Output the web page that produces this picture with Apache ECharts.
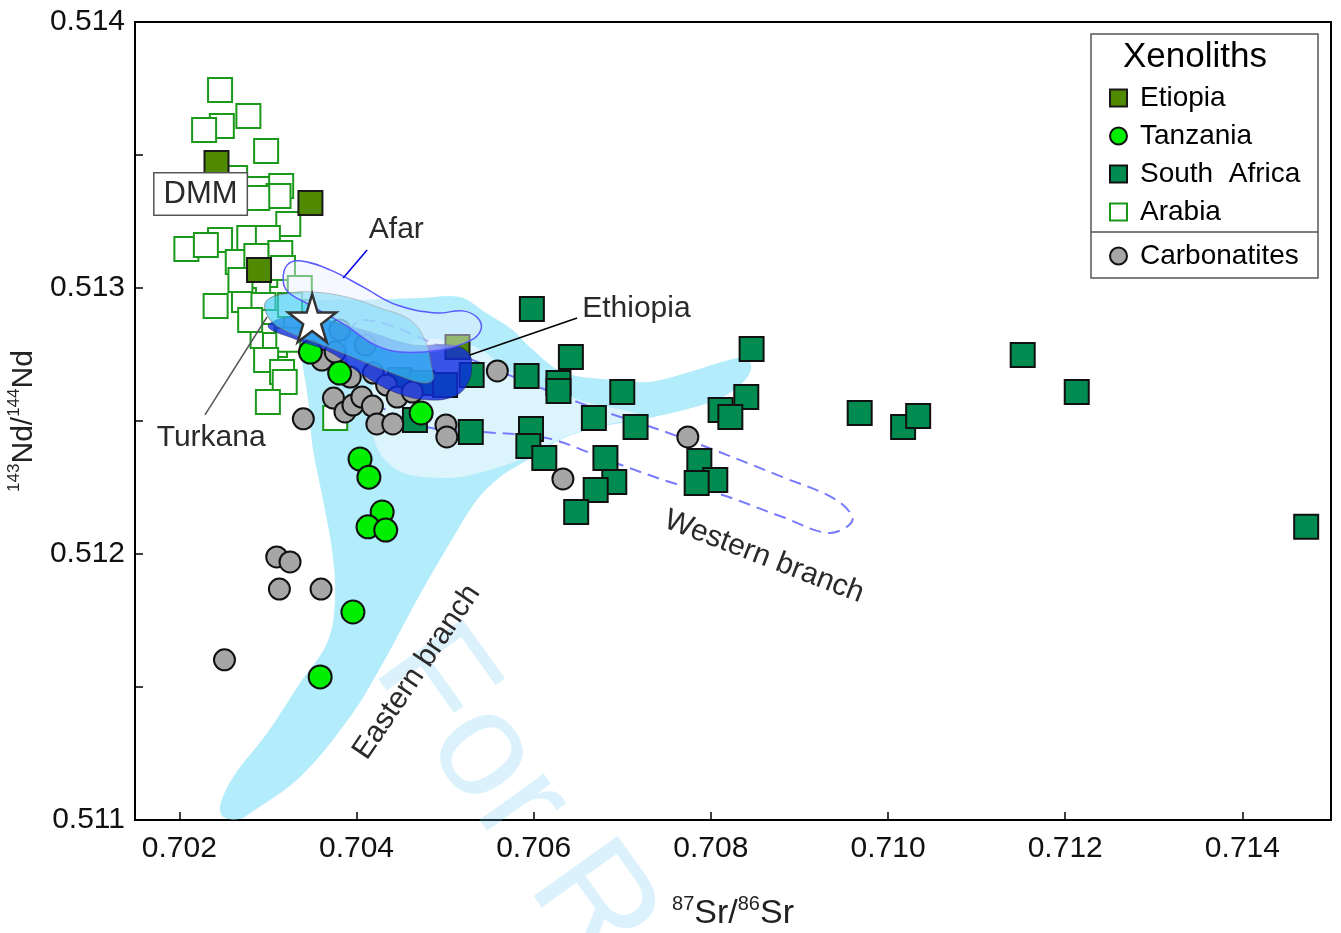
<!DOCTYPE html>
<html>
<head>
<meta charset="utf-8">
<script src="https://cdn.jsdelivr.net/npm/echarts@6/dist/echarts.min.js"></script>
<style>
  html, body { margin: 0; padding: 0; background: #fff; }
  #chart { width: 1341px; height: 933px; }
</style>
</head>
<body>
<div id="chart"></div>
<script>
// axis ticks
const xTicks = [0.702, 0.704, 0.706, 0.708, 0.710, 0.712, 0.714];

// xenolith / carbonatite samples [87Sr/86Sr, 143Nd/144Nd]
const arabia = [
  [0.70246,0.513744],[0.70278,0.513647],[0.70248,0.513609],[0.70228,0.513594],[0.70298,0.513515],
  [0.70263,0.513414],[0.7029,0.513372],[0.70315,0.513383],[0.70312,0.513346],[0.70288,0.513338],
  [0.70323,0.513241],[0.70208,0.513147],[0.70246,0.51318],[0.7023,0.513162],[0.70279,0.513188],
  [0.703,0.513188],[0.70314,0.513132],[0.70266,0.513098],[0.70287,0.51312],[0.70297,0.513049],
  [0.70317,0.513075],[0.70336,0.513],[0.70241,0.512932],[0.70289,0.512992],[0.70273,0.512955],
  [0.70295,0.512936],[0.70305,0.512872],[0.70294,0.51282],[0.70308,0.512786],[0.70323,0.512805],
  [0.70298,0.512729],[0.70316,0.512684],[0.70319,0.512647],[0.703,0.512571],[0.70376,0.512511],
  [0.7028,0.51288],[0.70269,0.51303],[0.70325,0.512936]
];
const etiopia = [
  [0.70242,0.51347],[0.70348,0.51332],[0.7029,0.513068],[0.70514,0.512778]
];
const southAfrica = [
  [0.70598,0.512921],[0.70642,0.512741],[0.70592,0.512669],[0.70628,0.512643],[0.70628,0.512613],
  [0.707,0.512609],[0.70668,0.512511],[0.70715,0.512477],[0.70597,0.51247],[0.70594,0.512406],
  [0.70612,0.512361],[0.70681,0.512361],[0.70691,0.512271],[0.7067,0.512241],[0.70648,0.512158],
  [0.70787,0.51235],[0.70805,0.512278],[0.70784,0.512267],[0.70846,0.512771],[0.7084,0.51259],
  [0.70811,0.512541],[0.70822,0.512515],[0.70968,0.51253],[0.71017,0.512477],[0.71034,0.512519],
  [0.71152,0.512748],[0.71213,0.512609],[0.71472,0.512102],[0.7053,0.512673],[0.70466,0.512504],
  [0.70529,0.512459],[0.70449,0.512654],[0.70474,0.512643],[0.705,0.512635]
];
const tanzania = [
  [0.70348,0.512759],[0.70381,0.51268],[0.70473,0.51253],[0.70404,0.512357],[0.70414,0.512289],
  [0.70429,0.512158],[0.70413,0.512102],[0.70433,0.51209],[0.70396,0.511782],[0.70359,0.511538]
];
const carbonatites = [
  [0.70251,0.511602],[0.7031,0.511989],[0.70325,0.51197],[0.70313,0.511868],[0.7036,0.511868],
  [0.7034,0.512508],[0.70633,0.512282],[0.70774,0.51244],[0.70559,0.512688],[0.70501,0.512485],
  [0.70502,0.51244],[0.70361,0.512729],[0.70376,0.512759],[0.70393,0.512665],[0.70374,0.512586],
  [0.70387,0.512534],[0.70396,0.51256],[0.70406,0.51259],[0.70419,0.51268],[0.70434,0.512635],
  [0.70418,0.512556],[0.70423,0.512489],[0.70441,0.512489],[0.70446,0.51259],[0.70381,0.512842],
  [0.7041,0.512786],[0.70463,0.512609]
];
const bulkSilicateEarth = [[0.7035, 0.512887]];

// fields (outlines)
const riftField = [
  [0.702496,0.511011],[0.702462,0.511056],[0.702608,0.511162],[0.702992,0.511327],[0.703363,0.511515],
  [0.703668,0.511665],[0.703758,0.511827],[0.703724,0.512015],[0.703623,0.512203],[0.70351,0.512391],
  [0.703454,0.512579],[0.703363,0.512767],[0.703307,0.512898],[0.703476,0.512947],[0.704039,0.512955],
  [0.704715,0.512962],[0.705166,0.512966],[0.705448,0.51291],[0.705763,0.512842],[0.705955,0.512778],
  [0.706327,0.512684],[0.70689,0.512654],[0.707307,0.512647],[0.707758,0.512684],[0.708242,0.512733],
  [0.7084,0.512737],[0.708456,0.512699],[0.708355,0.512643],[0.708062,0.512579],[0.707307,0.512511],
  [0.706744,0.512477],[0.706293,0.512429],[0.705989,0.512365],[0.705617,0.512289],[0.705358,0.512203],
  [0.705054,0.512041],[0.704682,0.511827],[0.704299,0.51159],[0.703927,0.511387],[0.703363,0.511162],
  [0.7028,0.511026],[0.702687,0.511004]
];
const riftInner = [
  [0.70449,0.512786],[0.705279,0.512786],[0.705786,0.512673],[0.706518,0.512579],[0.707194,0.512519],
  [0.706744,0.512481],[0.706293,0.512432],[0.705955,0.512372],[0.705504,0.512316],[0.704941,0.512286],
  [0.704377,0.512335],[0.704152,0.512504],[0.704208,0.512654]
];
const westernBranch = [
  [0.704074,0.51288],[0.704976,0.512778],[0.705393,0.512718],[0.706521,0.512568],[0.707648,0.51244],
  [0.70881,0.512289],[0.709418,0.512203],[0.709599,0.512128],[0.709339,0.512079],[0.70881,0.512139],
  [0.708065,0.512229],[0.707648,0.512259],[0.706893,0.512346],[0.706149,0.512436],[0.705427,0.512459],
  [0.704717,0.512485],[0.704041,0.512617],[0.703871,0.512786]
];
const ethiopiaField = [
  [0.703003,0.512857],[0.703363,0.512895],[0.704073,0.512842],[0.704637,0.512786],[0.705054,0.512786],
  [0.705256,0.512759],[0.705301,0.512699],[0.705245,0.512635],[0.70511,0.512594],[0.704828,0.512579],
  [0.704456,0.512605],[0.704073,0.512673],[0.703701,0.512759],[0.70333,0.512805]
];
const turkanaField = [
  [0.702992,0.512955],[0.703251,0.512981],[0.70351,0.512985],[0.703893,0.512966],[0.704265,0.512925],
  [0.704603,0.51288],[0.704772,0.512805],[0.704851,0.512699],[0.704862,0.512654],[0.704749,0.512643],
  [0.70449,0.512669],[0.703701,0.512774],[0.703138,0.51285],[0.70298,0.512906]
];
const afarField = [
  [0.703172,0.51303],[0.703217,0.513086],[0.703363,0.513102],[0.703701,0.513068],[0.704073,0.513004],
  [0.704456,0.512936],[0.704907,0.512906],[0.7052,0.512914],[0.705369,0.512887],[0.705403,0.512842],
  [0.705279,0.512801],[0.704941,0.512767],[0.70449,0.512759],[0.704208,0.512786],[0.70387,0.512861],
  [0.703476,0.512936],[0.703228,0.512985]
];

// label leaders
const afarLeader = [[0.70385,0.513038],[0.70412,0.513143]];
const ethiopiaLeader = [[0.70528,0.512748],[0.70649,0.512887]];
const turkanaLeader = [[0.70229,0.512523],[0.70299,0.512891]];

const font = "'Liberation Sans', Arial, Helvetica, sans-serif";
const STAR = 'path://M50,0 L61,35 L98,35 L68,57 L79,91 L50,70 L21,91 L32,57 L2,35 L39,35 Z';

function field(name, pts, style, z, smooth) {
  return {
    type: 'custom', name: name, z: z, silent: true, clip: true,
    data: [pts[0]],
    renderItem: (params, api) => ({
      type: 'polygon',
      shape: { points: pts.map(p => api.coord(p)), smooth: smooth },
      style: style
    })
  };
}

function leader(pts, color) {
  return {
    type: 'line', data: pts, symbol: 'none', silent: true, z: 6,
    lineStyle: { color: color, width: 1.5 }
  };
}

function note(pos, text, extra) {
  return {
    value: pos,
    label: Object.assign({
      show: true, position: 'inside', formatter: text, opacity: 1,
      fontFamily: font, fontSize: 30, color: '#2a2a2a', textBorderWidth: 0
    }, extra || {})
  };
}

const chart = echarts.init(document.getElementById('chart'));

const option = {
  animation: false,
  backgroundColor: '#fff',
  grid: {
    left: 135, right: 10, top: 22, bottom: 113,
    outerBoundsMode: 'none', containLabel: false,
    show: true, borderColor: '#000', borderWidth: 2
  },
  xAxis: {
    type: 'value', min: 0.7015, max: 0.715,
    name: '{sup|87}{b|Sr/}{sup|86}{b|Sr}',
    nameLocation: 'middle', nameGap: 74,
    nameTextStyle: {
      rich: {
        b: { fontFamily: font, fontSize: 34, color: '#222', lineHeight: 40 },
        sup: { fontFamily: font, fontSize: 20, color: '#222', lineHeight: 20, verticalAlign: 'top' }
      }
    },
    axisLine: { lineStyle: { color: '#000', width: 2 } },
    axisTick: { inside: true, length: 8, customValues: xTicks, lineStyle: { color: '#000', width: 1.5 } },
    axisLabel: {
      customValues: xTicks, formatter: v => v.toFixed(3),
      fontFamily: font, fontSize: 30, color: '#111', margin: 14
    },
    splitLine: { show: false }
  },
  yAxis: {
    type: 'value', min: 0.511, max: 0.514, interval: 0.0005,
    name: '{sup|143}{b|Nd/}{sup|144}{b|Nd}',
    nameLocation: 'middle', nameGap: 90,
    nameTextStyle: {
      rich: {
        b: { fontFamily: font, fontSize: 30, color: '#222', lineHeight: 36 },
        sup: { fontFamily: font, fontSize: 17, color: '#222', lineHeight: 17, verticalAlign: 'top' }
      }
    },
    axisLine: { lineStyle: { color: '#000', width: 2 } },
    axisTick: { inside: true, length: 8, lineStyle: { color: '#000', width: 1.5 } },
    axisLabel: {
      formatter: v => (Math.abs(v * 1000 - Math.round(v * 1000)) < 1e-6 ? v.toFixed(3) : ''),
      fontFamily: font, fontSize: 30, color: '#111', margin: 10
    },
    splitLine: { show: false }
  },
  legend: [
    {
      data: [
        { name: 'Etiopia', icon: 'rect' },
        { name: 'Tanzania', icon: 'circle' },
        { name: 'South  Africa', icon: 'rect' },
        { name: 'Arabia', icon: 'rect' }
      ],
      orient: 'vertical', left: 1104, top: 79,
      itemWidth: 17, itemHeight: 17, itemGap: 10,
      textStyle: { fontFamily: font, fontSize: 28, color: '#000', lineHeight: 28, padding: [0, 0, 0, 8] },
      selectedMode: false
    },
    {
      data: [{ name: 'Carbonatites', icon: 'circle' }],
      orient: 'vertical', left: 1104, top: 237,
      itemWidth: 17, itemHeight: 17,
      textStyle: { fontFamily: font, fontSize: 28, color: '#000', lineHeight: 28, padding: [0, 0, 0, 8] },
      selectedMode: false
    }
  ],
  graphic: [
    {
      type: 'text', x: 405, y: 645, rotation: -0.95, z: 1, silent: true,
      style: { text: 'For Review Only', font: '150px ' + font, fill: 'rgba(110,205,245,0.25)', textVerticalAlign: 'middle' }
    },
    {
      type: 'rect', z: 3, silent: true,
      shape: { x: 1091, y: 34, width: 227, height: 244 },
      style: { fill: '#fff', stroke: '#555', lineWidth: 1.5 }
    },
    {
      type: 'line', z: 3, silent: true,
      shape: { x1: 1091, y1: 232, x2: 1318, y2: 232 },
      style: { stroke: '#555', lineWidth: 1.5 }
    },
    {
      type: 'text', z: 5, silent: true, x: 1195, y: 57,
      style: { text: 'Xenoliths', font: '35px ' + font, fill: '#000', textAlign: 'center', textVerticalAlign: 'middle' }
    }
  ],
  series: [
    field('rift', riftField, { fill: '#b3ecfb' }, 1, 0.35),
    field('riftInner', riftInner, { fill: '#dcf5fd' }, 1, 0.4),
    field('western', westernBranch, { fill: 'none', stroke: '#7a7aff', lineWidth: 2, lineDash: [12, 7] }, 1, 0.35),
    {
      type: 'scatter', name: 'Arabia', data: arabia, symbol: 'rect', symbolSize: 24, z: 2,
      itemStyle: { color: '#fff', borderColor: '#1a991a', borderWidth: 2, opacity: 1 }
    },
    {
      type: 'scatter', name: 'Etiopia', data: etiopia, symbol: 'rect', symbolSize: 24, z: 2,
      itemStyle: { color: '#4f8a00', borderColor: '#1a1a1a', borderWidth: 2, opacity: 1 }
    },
    {
      type: 'scatter', name: 'South  Africa', data: southAfrica, symbol: 'rect', symbolSize: 24, z: 2,
      itemStyle: { color: '#008c50', borderColor: '#111', borderWidth: 2, opacity: 1 }
    },
    {
      type: 'scatter', name: 'Carbonatites', data: carbonatites, symbol: 'circle', symbolSize: 21, z: 2,
      itemStyle: { color: '#a6a6a6', borderColor: '#111', borderWidth: 2, opacity: 1 }
    },
    {
      type: 'scatter', name: 'Tanzania', data: tanzania, symbol: 'circle', symbolSize: 23, z: 2,
      itemStyle: { color: '#00ee00', borderColor: '#111', borderWidth: 2, opacity: 1 }
    },
    field('ethiopia', ethiopiaField, { fill: 'rgba(15,45,225,0.8)', stroke: 'rgba(40,40,90,0.6)', lineWidth: 1 }, 3, 0.4),
    field('turkana', turkanaField, { fill: 'rgba(60,205,245,0.65)', stroke: 'rgba(110,110,110,0.7)', lineWidth: 1 }, 3, 0.4),
    field('afar', afarField, { fill: 'rgba(235,240,255,0.45)', stroke: '#5a5aff', lineWidth: 1.5 }, 3, 0.4),
    {
      type: 'scatter', name: 'BSE', data: bulkSilicateEarth, symbol: STAR, symbolSize: 48, z: 5,
      itemStyle: { color: '#fff', borderColor: '#333', borderWidth: 2.5, opacity: 1 }
    },
    leader(afarLeader, '#0000ee'),
    leader(ethiopiaLeader, '#000'),
    leader(turkanaLeader, '#555'),
    {
      type: 'scatter', name: 'notes', symbolSize: 1, z: 7, silent: true,
      itemStyle: { color: 'rgba(0,0,0,0)' },
      data: [
        note([0.70224, 0.513353], 'DMM', {
          fontSize: 31, backgroundColor: '#fff', borderColor: '#555', borderWidth: 1.5, padding: [6, 9, 4, 9]
        }),
        note([0.70445, 0.513218], 'Afar'),
        note([0.70716, 0.512921], 'Ethiopia'),
        note([0.70236, 0.512436], 'Turkana'),
        note([0.7086, 0.511989], 'Western branch', { rotate: -21 }),
        note([0.70468, 0.511556], 'Eastern branch', { rotate: 56 })
      ]
    }
  ]
};

chart.setOption(option);
</script>
</body>
</html>
